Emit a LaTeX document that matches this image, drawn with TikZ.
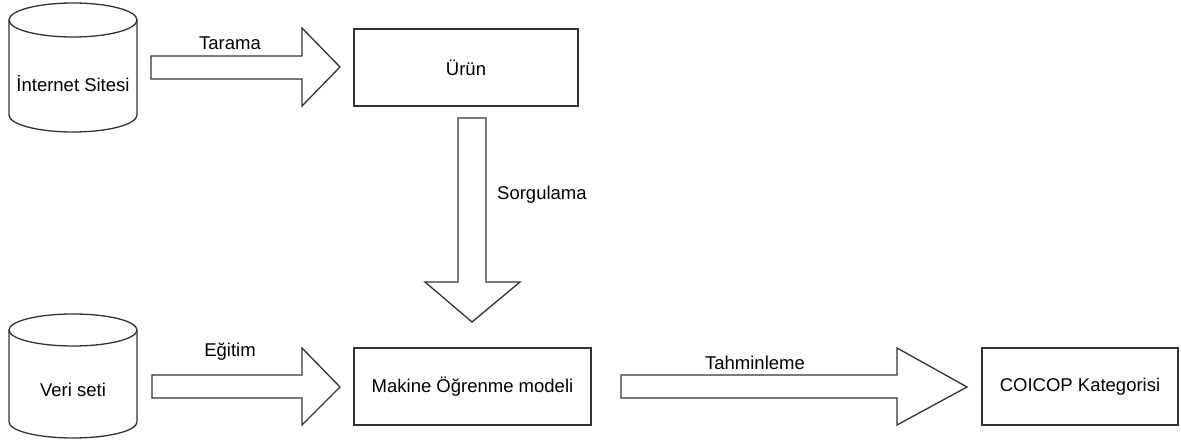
\documentclass[tikz,border=0pt]{standalone}
\usepackage{fontspec}
\setmainfont{Liberation Sans}
\begin{document}
\begin{tikzpicture}[x=1pt,y=1pt,
  line/.style={draw=black!80,line width=1.3pt,line join=miter},
  box/.style={line,rectangle,inner sep=0pt,align=center},
  lbl/.style={inner sep=0pt,font=\fontsize{18.5}{22}\selectfont},
  blockarrow/.style={line,fill=white}]
\useasboundingbox (0,0) rectangle (1181,443);
\tikzset{every node/.append style={font=\fontsize{18.5}{22}\selectfont}}

% cylinder 1
\draw[line] (73,423) ellipse [x radius=64pt,y radius=17pt];
\draw[line] (9,423) -- (9,328) arc[start angle=180,end angle=360,x radius=64pt,y radius=17pt] -- (137,423);
\node[lbl] (site) at (73,359) {İnternet Sitesi};

% cylinder 2
\draw[line] (73,113) ellipse [x radius=64pt,y radius=16pt];
\draw[line] (9,113) -- (9,21) arc[start angle=180,end angle=360,x radius=64pt,y radius=16pt] -- (137,113);
\node[lbl] (veri) at (73,53) {Veri seti};

% boxes
\node[box,minimum width=224pt,minimum height=77pt] (urun) at (466,375.5) {Ürün};
\node[box,minimum width=237pt,minimum height=77pt] (model) at (472.5,56.5) {Makine Öğrenme modeli};
\node[box,minimum width=196pt,minimum height=77pt] (coicop) at (1080,56.5) {COICOP Kategorisi};

% block arrows
\draw[blockarrow] (151,387) -- (302,387) -- (302,415) -- (340,376) -- (302,337) -- (302,364) -- (151,364) -- cycle;
\node[lbl] (tarama) at (230,400) {Tarama};

\draw[blockarrow] (458,325) -- (486,325) -- (486,161) -- (520,161) -- (472,121) -- (425,161) -- (458,161) -- cycle;
\node[lbl,anchor=west] (sorgu) at (497,248) {Sorgulama};

\draw[blockarrow] (152,68) -- (302,68) -- (302,95) -- (340,56) -- (302,18) -- (302,45) -- (152,45) -- cycle;
\node[lbl] (egitim) at (230,91) {Eğitim};

\draw[blockarrow] (621,68) -- (897,68) -- (897,95) -- (967,56) -- (897,18) -- (897,45) -- (621,45) -- cycle;
\node[lbl] (tahmin) at (755,80) {Tahminleme};
\end{tikzpicture}
\end{document}
